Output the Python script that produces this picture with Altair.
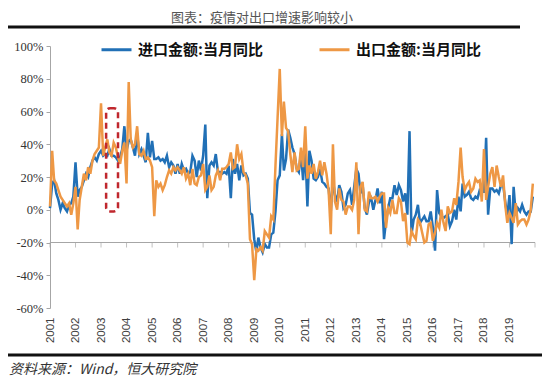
import altair as alt
import pandas as pd

TITLE = "图表：疫情对出口增速影响较小"
SOURCE = "资料来源：Wind，恒大研究院"
IMPORT_LABEL = "进口金额:当月同比"
EXPORT_LABEL = "出口金额:当月同比"
BLUE = "#2170B6"
ORANGE = "#EE9845"

YEARS = list(range(2001, 2020))
TICK_YEARS = list(range(2001, 2021))
Y_TICKS = [-60, -40, -20, 0, 20, 40, 60, 80, 100]

# blue series (legend: 进口金额:当月同比), % yoy, Jan 2001 .. Dec 2019
blue_values = [
    1, 16, 18, 10, 6, 0, 4, 1, -1, 3, 4, 8,
    29, 8, 12, 14, 18, 22, 20, 26, 30, 32, 30, 34,
    36, 33, 34, 33, 37, 33, 33, 32, 30, 32, 37, 51,
    36, 42, 43, 38, 33, 46, 34, 37, 33, 29, 47, 32,
    42, 31, 31, 32, 30, 31, 29, 33, 26, 29, 27, 22,
    28, 22, 28, 24, 25, 22, 23, 33, 30, 20, 30, 24,
    33, 52, 7, 27, 29, 27, 34, 23, 23, 22, 23, 22,
    27, 7, 31, 22, 28, 18, 27, 21, 22, 19, -2, -3,
    -18, -26, -17, -23, -26, -21, -23, -23, -15, -14, -1, 18,
    21, 46, 24, 31, 49, 44, 38, 34, 25, 23, 35, 18,
    38, 2, 36, 30, 19, 18, 20, 25, 17, 16, 14, 13,
    -1, 18, 9, 5, 15, 11, 1, 3, 10, 12, 3, 14,
    25, 22, 10, 15, 1, -3, 5, 7, 0, 6, 13, 4,
    11, -18, -7, 1, 7, 7, 15, 9, 15, 12, 5, 10,
    -3, 48, -15, -6, -3, 3, -8, -6, -4, -7, -7, -1,
    -11, -25, 12, -2, -4, -5, -4, -3, -10, -7, 0, -6,
    8, -1, 16, 8, 9, 11, 7, 6, 8, 7, 12, 11,
    11, 44, -3, 13, 13, 11, 12, 10, 15, 16, 5, -4,
    9, -21, 14, -3, 1, -1, 3, -1, -3, -1, -1, 8,
]

# orange series (legend: 出口金额:当月同比), % yoy, Jan 2001 .. Dec 2019
orange_values = [
    2, 36, 18, 16, 12, 8, 6, 4, 2, 4, -3, 4,
    14, -12, 6, 14, 22, 18, 26, 22, 30, 34, 36, 38,
    65, 33, 38, 43, 35, 33, 41, 38, 32, 28, 36, 41,
    16, 78, 43, 38, 40, 51, 34, 33, 36, 31, 32, 30,
    26, -4, 18, 14, 16, 12, 15, 20, 24, 22, 26, 24,
    26, 24, 22, 26, 19, 22, 15, 25, 16, 15, 20, 21,
    28, 12, 14, 21, 12, 14, 21, 24, 18, 25, 25, 26,
    28, 35, 25, 26, 40, 31, 34, 23, 21, 16, -18, -21,
    -43, -24, -25, -23, -25, -13, -15, -17, -4, -6, 27, 56,
    86, 45, 66, 50, 48, 34, 23, 35, 24, 25, 38, 26,
    51, 19, 27, 22, 28, 19, 23, 30, 21, 29, 22, 12,
    -15, 40, 5, 0, 13, 6, 5, -3, 2, 2, 0, 6,
    29, -15, 14, 17, 0, -1, 11, 7, 7, 8, 5, 8,
    10, 10, -11, 1, -2, 6, -2, -2, 7, 5, -7, -2,
    -20, -21, -13, -16, -18, -6, -8, -14, -20, -19, -9, -8,
    -19, -14, -8, -11, 0, -8, -13, 2, -2, -1, 7, 3,
    17, 38, 20, 12, 15, 17, 11, 13, 19, 17, 18, 5,
    37, 6, 14, 22, 26, 14, 27, 20, 14, 21, 3, -8,
    -2, -5, -8, 4, -9, -7, -6, -6, -9, -6, 0, 16,
]

# dashed highlight box (2003 SARS period)
box_x = ["2003-03-15", "2003-09-01"]
box_y = [62, -1]

dates = [f"{y}-{m:02d}-01" for y in YEARS for m in range(1, 13)]
df_blue = pd.DataFrame({"date": dates, "value": blue_values, "series": IMPORT_LABEL})
df_orange = pd.DataFrame({"date": dates, "value": orange_values, "series": EXPORT_LABEL})

x_scale = alt.Scale(
    type="utc",
    domain=[alt.DateTime(year=2001, month=1, date=1, utc=True),
            alt.DateTime(year=2020, month=1, date=1, utc=True)],
)
y_scale = alt.Scale(domain=[-60, 100], nice=False, zero=False)

x_axis = alt.Axis(
    values=[alt.DateTime(year=y, month=1, date=1, utc=True) for y in YEARS],
    labelExpr="utcFormat(datum.value, '%Y')",
    labelAngle=270, labelAlign="right", labelBaseline="middle",
    labelPadding=9, labelOverlap=False, domain=False, ticks=False, grid=False,
    labelFont="Liberation Sans", labelFontSize=11.5, labelColor="#404040",
    title=None,
)
y_axis = alt.Axis(
    values=Y_TICKS, labelExpr="datum.value + '%'", grid=False,
    labelOverlap=False,
    domainColor="#a6a6a6", tickColor="#a6a6a6", tickSize=4,
    labelFont="Liberation Serif", labelFontSize=12.5, labelColor="#333333",
    labelPadding=3, title=None,
)


def X(field):
    return alt.X(field, scale=x_scale, axis=x_axis, title=None)


def Y(field):
    return alt.Y(field, scale=y_scale, axis=y_axis, title=None)


color_enc = alt.Color(
    "series:N",
    scale=alt.Scale(domain=[IMPORT_LABEL, EXPORT_LABEL], range=[BLUE, ORANGE]),
    legend=alt.Legend(
        orient="none", legendX=50, legendY=-13, direction="horizontal",
        title=None, symbolType="stroke", symbolSize=900, symbolStrokeWidth=3,
        labelFont="Noto Sans CJK SC", labelFontSize=15, labelFontWeight="bold",
        labelColor="#111111", columnPadding=50, labelOffset=5, labelLimit=300,
    ),
)

blue_line = alt.Chart(df_blue).mark_line(strokeWidth=2.5).encode(
    x=X("date:T"), y=Y("value:Q"), color=color_enc,
)
orange_line = alt.Chart(df_orange).mark_line(strokeWidth=2.5).encode(
    x=X("date:T"), y=Y("value:Q"), color=color_enc,
)

base_rule = alt.Chart(pd.DataFrame({"value": [-20]})).mark_rule(
    color="#a6a6a6", strokeWidth=1).encode(y=Y("value:Q"))

tick_df = pd.DataFrame({"date": [f"{y}-01-01" for y in TICK_YEARS], "value": -20})
ticks = alt.Chart(tick_df).mark_tick(
    orient="vertical", size=5, thickness=1, color="#a6a6a6", yOffset=2.5
).encode(x=X("date:T"), y=Y("value:Q"))

box = alt.Chart(pd.DataFrame({"date": [box_x[0]], "date2": [box_x[1]],
                              "value": [box_y[0]], "value2": [box_y[1]]})).mark_rect(
    fillOpacity=0, stroke="#C0272D", strokeWidth=2.5, strokeDash=[6, 4],
    cornerRadius=4,
).encode(x=X("date:T"), x2="date2:T", y=Y("value:Q"), y2="value2:Q")

title_txt = alt.Chart(pd.DataFrame({"t": [TITLE]})).mark_text(
    font="Noto Sans CJK SC", fontSize=13, color="#555555", align="center",
    baseline="middle",
).encode(text="t:N", x=alt.value(212), y=alt.value(-28))

source_txt = alt.Chart(pd.DataFrame({"t": [SOURCE]})).mark_text(
    font="Noto Sans CJK SC", fontSize=14, fontStyle="italic", color="#333333",
    align="left", baseline="middle",
).encode(text="t:N", x=alt.value(-41), y=alt.value(324))

top_line = alt.Chart(pd.DataFrame({"a": [0]})).mark_rule(
    color="#111111", strokeWidth=3).encode(
    x=alt.value(-42), x2=alt.value(470), y=alt.value(-19))
bottom_line = alt.Chart(pd.DataFrame({"a": [0]})).mark_rule(
    color="#111111", strokeWidth=3).encode(
    x=alt.value(-42), x2=alt.value(492), y=alt.value(309))

chart = alt.layer(
    base_rule, ticks, blue_line, orange_line, box,
    title_txt, source_txt, top_line, bottom_line,
).properties(
    width=485, height=262,
    padding={"left": 42, "top": 38, "right": 7, "bottom": 71},
    autosize=alt.AutoSizeParams(type="none"),
    background="white",
).configure_view(stroke=None).configure_axis(labelOverlap=False)

chart.save("out.html", embed_options={"renderer": "svg", "actions": False})
